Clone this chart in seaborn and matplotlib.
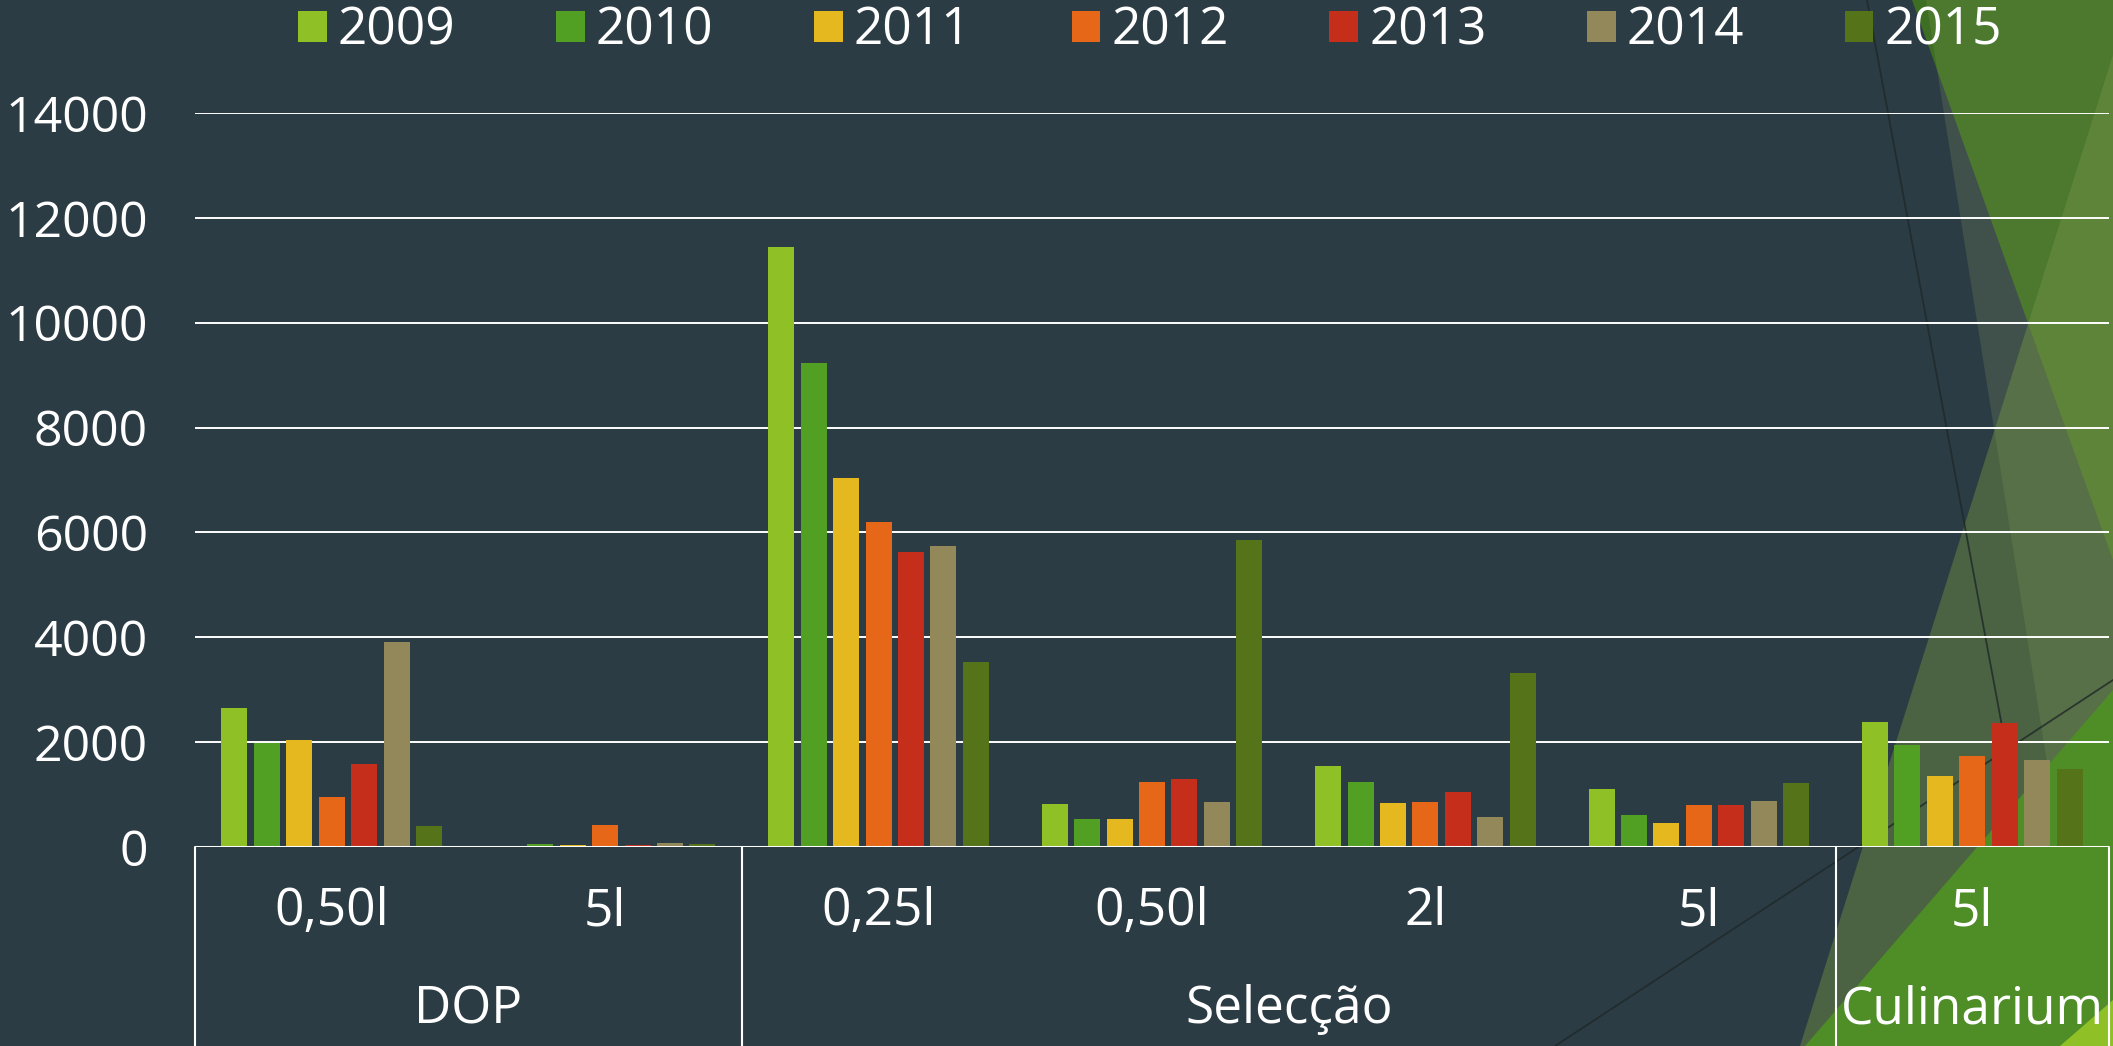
import pandas as pd
import matplotlib
matplotlib.use("Agg")
import matplotlib.pyplot as plt
from matplotlib.patches import Polygon
from matplotlib.lines import Line2D
import seaborn as sns

# chart data
groups = ["DOP", "DOP", "Selecção", "Selecção", "Selecção", "Selecção", "Culinarium"]
sizes = ["0,50l", "5l", "0,25l", "0,50l", "2l", "5l", "5l"]
group_labels = ["DOP", "Selecção", "Culinarium"]
years = ["2009", "2010", "2011", "2012", "2013", "2014", "2015"]

v2009 = [2650, 25, 11435, 820, 1540, 1100, 2375]
v2010 = [1980, 64, 9230, 530, 1235, 612, 1945]
v2011 = [2050, 45, 7030, 530, 845, 450, 1355]
v2012 = [962, 423, 6200, 1240, 855, 792, 1745]
v2013 = [1585, 30, 5625, 1300, 1040, 792, 2370]
v2014 = [3905, 83, 5735, 860, 580, 882, 1650]
v2015 = [410, 64, 3520, 5860, 3320, 1215, 1485]

palette = ["#8FC126", "#52A023", "#E5B81F", "#E66718", "#C42E1B", "#93885A", "#55741A"]
yticks = [0, 2000, 4000, 6000, 8000, 10000, 12000, 14000]

BG = "#2C3C45"
FONT = ["Open Sans", "DejaVu Sans"]

series = [v2009, v2010, v2011, v2012, v2013, v2014, v2015]
keys = [f"{g}|{s}|{i}" for i, (g, s) in enumerate(zip(groups, sizes))]
rows = []
for year, vals in zip(years, series):
    for k, v in zip(keys, vals):
        rows.append({"cat": k, "year": year, "value": v})
df = pd.DataFrame(rows)

sns.set_theme(style="dark")
plt.rcParams["font.family"] = FONT
plt.rcParams["text.color"] = "white"

W, H = 2113, 1046
fig = plt.figure(figsize=(W / 100, H / 100), dpi=100, facecolor=BG)

# background decoration (triangles in the right corner), pixel coords from top-left
def px(pts):
    return [(x / W, 1 - y / H) for x, y in pts]

deco = [
    ([(1912, 0), (2113, 0), (2113, 560)], "#3D6E23", 1.0),
    ([(2113, 55), (1800, 1046), (2113, 1046)], "#6A8A40", 0.5),
    ([(1926, 0), (2113, 0), (2113, 1046), (2092, 1046)], "#8FA860", 0.2),
    ([(2113, 690), (1805, 1046), (2113, 1046)], "#4F8D27", 1.0),
    ([(2113, 1000), (2060, 1046), (2113, 1046)], "#8FC126", 1.0),
]
for pts, col, a in deco:
    fig.patches.append(Polygon(px(pts), closed=True, transform=fig.transFigure,
                               facecolor=col, alpha=a, edgecolor="none", zorder=-10))
for (x0, y0), (x1, y1) in [((1867, 0), (2012, 780)), ((1555, 1046), (2113, 680))]:
    fig.lines.append(Line2D([x0 / W, x1 / W], [1 - y0 / H, 1 - y1 / H], transform=fig.transFigure,
                            color="#1E2828", lw=1.3, alpha=0.8, zorder=-5))

ax = fig.add_axes([195 / W, 1 - 847 / H, (2109 - 195) / W, (847 - 113) / H])
ax.set_facecolor("none")

sns.barplot(data=df, x="cat", y="value", hue="year", hue_order=years, order=keys,
            palette=palette, width=0.83, gap=0.2, linewidth=0, saturation=1, ax=ax)

ax.set_ylim(0, 14000)
ax.set_xlim(-0.5, len(keys) - 0.5)
ax.set_yticks(yticks)
ax.set_yticklabels([str(t) for t in yticks], fontsize=36, color="white")
ax.tick_params(axis="y", length=0, pad=34)
ax.set_xticks([])
ax.set_xlabel("")
ax.set_ylabel("")
for s in ax.spines.values():
    s.set_visible(False)
for t in yticks[1:]:
    ax.axhline(t, color="white", lw=1.4, zorder=0.5)
ax.axhline(0, color="white", lw=2.2, zorder=3)

# two-level category axis
for i, s in enumerate(sizes):
    ax.text(i, -0.088, s, transform=ax.get_xaxis_transform(), ha="center", va="center",
            fontsize=37, color="white")
bounds = [-0.5]
pos = 0
for g in group_labels:
    n = groups.count(g)
    ax.text(pos + (n - 1) / 2, -0.222, g, transform=ax.get_xaxis_transform(),
            ha="center", va="center", fontsize=37, color="white")
    pos += n
    bounds.append(pos - 0.5)
for b in bounds:
    ax.plot([b, b], [0, -0.28], transform=ax.get_xaxis_transform(), color="white",
            lw=1.5, clip_on=False)

handles, labels = ax.get_legend_handles_labels()
if ax.get_legend() is not None:
    ax.get_legend().remove()
fig.legend(handles, labels, loc="center", bbox_to_anchor=(1150 / W, 1 - 31 / H), ncol=7,
           frameon=False, fontsize=37, handlelength=0.56, handleheight=0.56,
           handletextpad=0.22, columnspacing=1.95, labelcolor="white", borderaxespad=0)

fig.savefig("out.png", dpi=100, facecolor=BG)
